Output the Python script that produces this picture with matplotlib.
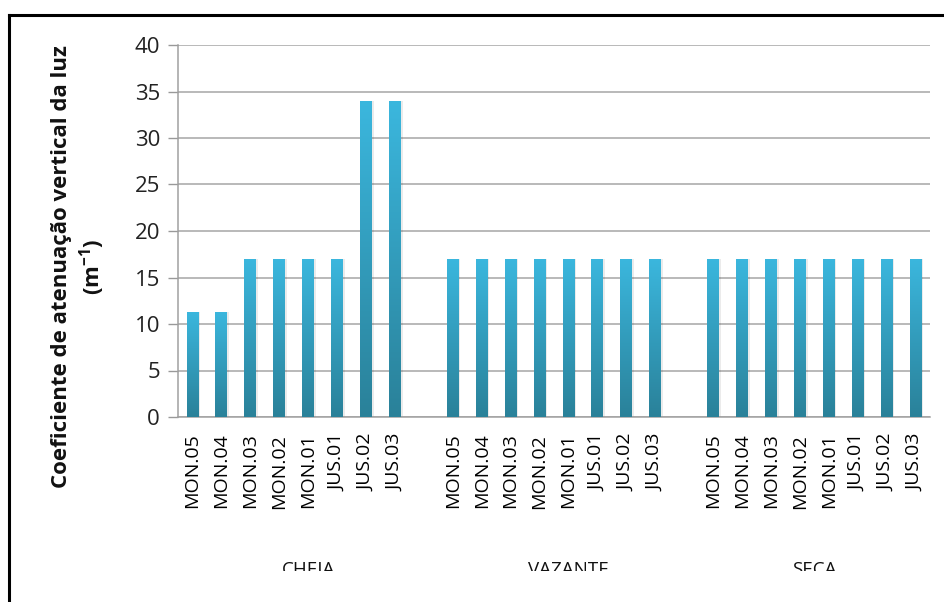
import numpy as np
import matplotlib
matplotlib.use("Agg")
import matplotlib.pyplot as plt
from matplotlib.colors import LinearSegmentedColormap
from matplotlib.patches import Rectangle
from matplotlib.lines import Line2D

# ---- data ----
groups = ["CHEIA", "VAZANTE", "SECA"]
sites = ["MON.05", "MON.04", "MON.03", "MON.02", "MON.01", "JUS.01", "JUS.02", "JUS.03"]
cheia = [11.3, 11.3, 17, 17, 17, 17, 34, 34]
vazante = [17, 17, 17, 17, 17, 17, 17, 17]
seca = [17, 17, 17, 17, 17, 17, 17, 17]
yticks = [0, 5, 10, 15, 20, 25, 30, 35, 40]
ylabel = "Coeficiente de atenuação vertical da luz\n(m$^{\\mathregular{-1}}$)"

plt.rcParams['font.family'] = ['Open Sans', 'DejaVu Sans']

W, H = 944, 602
fig = plt.figure(figsize=(W / 100, H / 100), dpi=100)
ax = fig.add_axes([178 / W, 1 - 417 / H, (930 - 178) / W, (417 - 45) / H])

# category layout: each group of 8 followed by a blank slot (except last)
labels, values, group_spans = [], [], []
series = [cheia, vazante, seca]
for gi, (g, vals) in enumerate(zip(groups, series)):
    start = len(labels)
    labels += sites
    values += vals
    if gi < len(groups) - 1:
        labels.append("")
        values.append(np.nan)
    group_spans.append((start, len(labels) - 1))

x = np.arange(len(labels))
cmap = LinearSegmentedColormap.from_list("g", ["#2a8199", "#3bb7de"])
grad = np.linspace(0, 1, 256).reshape(-1, 1)

bars = ax.bar(x, np.nan_to_num(values), width=0.41, color="none", edgecolor="none", zorder=3)
for b, v in zip(bars, values):
    if np.isnan(v):
        continue
    x0, w, h = b.get_x(), b.get_width(), b.get_height()
    # soft shadow
    ax.add_patch(Rectangle((x0 + 0.06, 0), w, h, facecolor="#000000", alpha=0.08,
                           edgecolor="none", zorder=2))
    im = ax.imshow(grad, extent=[x0, x0 + w, 0, h], origin="lower", cmap=cmap,
                   aspect="auto", zorder=3, interpolation="bicubic")
    im.set_clip_path(b)

ax.set_xlim(-0.5, len(labels) - 0.5)
ax.set_ylim(0, 40)
ax.set_yticks(yticks)
ax.set_yticklabels([str(t) for t in yticks], fontsize=16, color="#222222")
ax.set_xticks(x)
ax.set_xticklabels(labels, rotation=90, fontsize=14, color="#000000", va="top", ha="center")
ax.tick_params(axis="x", length=0, pad=12)
ax.tick_params(axis="y", length=7, color="#999999", width=1, pad=6)
ax.grid(axis="y", color="#a6a6a6", linewidth=1.1, zorder=0)
ax.set_axisbelow(True)
for s in ["top", "right"]:
    ax.spines[s].set_visible(False)
for s in ["left", "bottom"]:
    ax.spines[s].set_color("#a0a0a0")
    ax.spines[s].set_linewidth(1.1)

# y label
fig.text(79 / W, 1 - 267 / H, ylabel, rotation=90, ha="center", va="center",
         fontsize=16, fontweight="bold", color="#111111", linespacing=1.2)

# group labels
for g, (s0, s1) in zip(groups, group_spans):
    xc = (s0 + s1) / 2
    xf = ax.transData.transform((xc, 0))[0] / W
    fig.text(xf, 1 - 570 / H, g, ha="center", va="center", fontsize=13.5, color="#111111")

# clip bottom (reference is cropped)
fig.patches.append(Rectangle((11 / W, 0), 1, 1 - 571 / H, transform=fig.transFigure,
                             facecolor="white", edgecolor="none", zorder=10))
# outer frame (top and left edges visible)
fig.lines.append(Line2D([9 / W, 1], [1 - 15 / H, 1 - 15 / H], transform=fig.transFigure,
                        color="black", linewidth=2.2, zorder=11))
fig.lines.append(Line2D([9 / W, 9 / W], [0, 1 - 15 / H], transform=fig.transFigure,
                        color="black", linewidth=2.2, zorder=11))

fig.savefig("out.png", dpi=100, facecolor="white")
